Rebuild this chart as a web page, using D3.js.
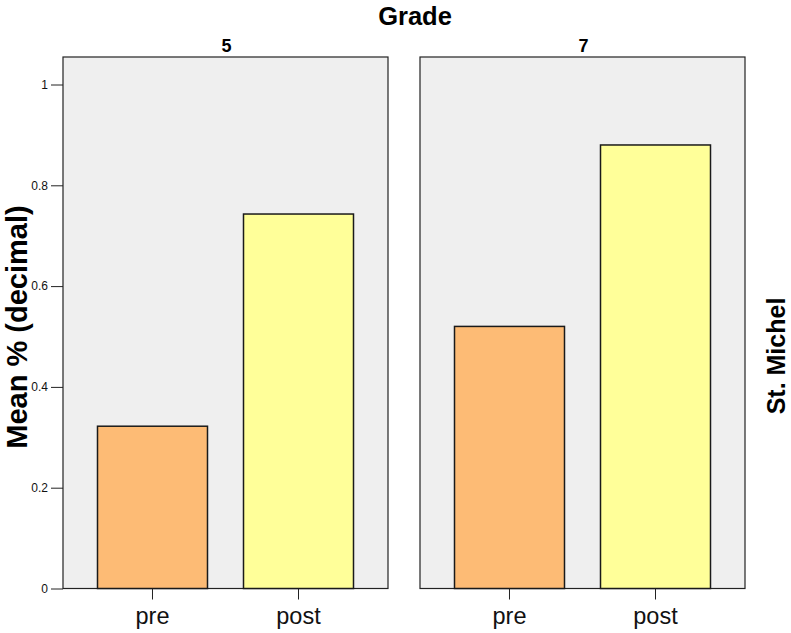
<!DOCTYPE html>
<html><head><meta charset="utf-8">
<script src="https://cdn.jsdelivr.net/npm/d3@7"></script>
<style>body{margin:0;background:#fff}svg{display:block;font-family:"Liberation Sans",Arial,sans-serif}</style>
</head><body>
<svg id="c" width="791" height="633"></svg>
<script>
const panels = ["5", "7"];
const categories = ["pre", "post"];
const valuesGrade5 = [0.322, 0.743];
const valuesGrade7 = [0.52, 0.88];
const yTicks = [0, 0.2, 0.4, 0.6, 0.8, 1];
const colors = ["#FDBB75", "#FFFF99"];

(function () {
const svg = d3.select("#c");
const panelTop = 57, panelBottom = 588.5;
const panelX = [63, 420], panelW = 325;
const y = d3.scaleLinear().domain([0, 1]).range([panelBottom, 84.5]);

const data = [valuesGrade5, valuesGrade7];
panels.forEach((p, i) => {
  const g = svg.append("g").attr("transform", `translate(${panelX[i]},0)`);
  g.append("rect").attr("x", 0).attr("y", panelTop).attr("width", panelW).attr("height", panelBottom - panelTop)
    .attr("fill", "#EFEFEF").attr("stroke", "#222").attr("stroke-width", 1.2);
  const x = d3.scaleBand().domain(categories).range([0, panelW]).paddingInner(0.2466).paddingOuter(0.2363);
  g.selectAll("rect.bar").data(data[i]).enter().append("rect").attr("class", "bar")
    .attr("x", (d, j) => x(categories[j])).attr("width", x.bandwidth())
    .attr("y", d => y(d)).attr("height", d => panelBottom - y(d))
    .attr("fill", (d, j) => colors[j]).attr("stroke", "#1a1a1a").attr("stroke-width", 1.5);
  const xa = g.append("g").attr("transform", `translate(0,${panelBottom})`)
    .call(d3.axisBottom(x).tickSize(11).tickPadding(8));
  xa.select(".domain").remove();
  xa.selectAll("line").attr("stroke", "#222");
  xa.selectAll("text").attr("font-size", 23.5).attr("fill", "#111");
  g.append("text").attr("x", panelW / 2 + 1).attr("y", 52).attr("text-anchor", "middle")
    .attr("font-weight", "bold").attr("font-size", 18).text(p);
});

const ya = svg.append("g").attr("transform", `translate(${panelX[0]},0)`)
  .call(d3.axisLeft(y).tickValues(yTicks).tickFormat(d3.format("")).tickSize(12).tickPadding(3));
ya.select(".domain").remove();
ya.selectAll("line").attr("stroke", "#222");
ya.selectAll("text").attr("font-size", 12).attr("fill", "#111");

svg.append("text").attr("x", 415).attr("y", 25).attr("text-anchor", "middle")
  .attr("font-weight", "bold").attr("font-size", 25.5).text("Grade");
svg.append("text").attr("transform", "translate(27,327) rotate(-90)").attr("text-anchor", "middle")
  .attr("font-weight", "bold").attr("font-size", 29).text("Mean % (decimal)");
svg.append("text").attr("transform", "translate(785,356) rotate(-90)").attr("text-anchor", "middle")
  .attr("font-weight", "bold").attr("font-size", 25).text("St. Michel");
})();
</script>
</body></html>
